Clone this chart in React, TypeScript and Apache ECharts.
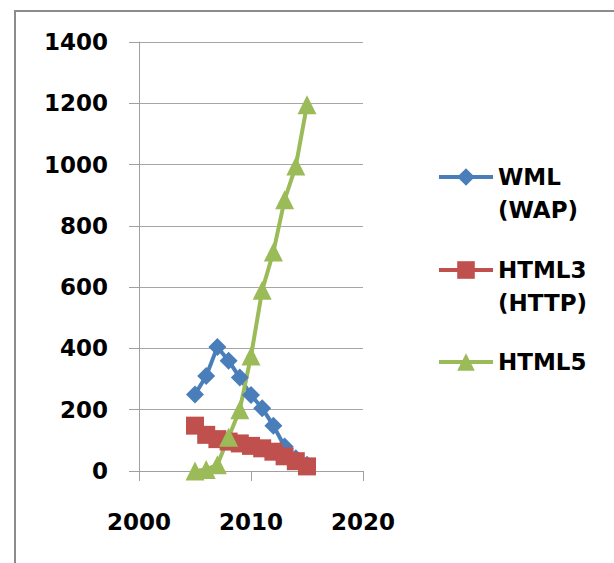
import React, { useEffect, useRef } from "react";
import * as echarts from "echarts";

const years = [2005, 2006, 2007, 2008, 2009, 2010, 2011, 2012, 2013, 2014, 2015];
const wml = [250, 310, 405, 360, 305, 248, 205, 148, 80, 42, 20];
const html3 = [148, 118, 104, 96, 90, 82, 74, 63, 48, 32, 15];
const html5 = [0, 5, 20, 110, 200, 375, 590, 715, 885, 995, 1195];
const seriesNames = ["WML (WAP)", "HTML3 (HTTP)", "HTML5"];
const legendLabels = ["\u00a0\nWML\n(WAP)", "\u00a0\nHTML3\n(HTTP)", "HTML5"];
const colors = ["#4A7EBB", "#C0504D", "#9BBB59"];

const FONT = "DejaVu Sans";
const L = 33;

export default function App() {
  const ref = useRef<HTMLDivElement>(null);
  useEffect(() => {
    const chart = echarts.init(ref.current!, null, { renderer: "svg" });
    const mk = (vals: number[]) => years.map((y, i) => [y, vals[i]]);
    const legendText = {
      fontFamily: FONT,
      fontSize: 23,
      fontWeight: "bold",
      color: "#000",
      lineHeight: L,
    };
    const legendBase = {
      orient: "vertical",
      left: 437,
      padding: 0,
      itemWidth: 54,
      itemHeight: 22,
      itemGap: 0,
      lineStyle: { width: 4 },
      textStyle: legendText,
      formatter: (n: string) => legendLabels[seriesNames.indexOf(n)],
    };
    chart.setOption({
      animation: false,
      backgroundColor: "#fff",
      graphic: [
        {
          type: "rect",
          shape: { x: 15, y: 11, width: 900, height: 900 },
          style: { fill: "none", stroke: "#8c8c8c", lineWidth: 2 },
          z: -1,
        },
      ],
      grid: { left: 139, right: 251, top: 42, bottom: 92 },
      legend: [
        { ...legendBase, top: 127.5, data: [seriesNames[0]] },
        { ...legendBase, top: 220.5, data: [seriesNames[1]] },
        { ...legendBase, top: 345.5, data: [seriesNames[2]] },
      ],
      xAxis: {
        type: "value",
        min: 2000,
        max: 2020,
        interval: 10,
        axisLine: { show: true, lineStyle: { color: "#a0a0a0", width: 1 } },
        axisTick: { show: true, length: 10, lineStyle: { color: "#a0a0a0" } },
        splitLine: { show: false },
        axisLabel: {
          margin: 37,
          fontFamily: FONT,
          fontSize: 23,
          fontWeight: "bold",
          color: "#000",
          lineHeight: 28,
          formatter: (v: number) => String(v),
        },
      },
      yAxis: {
        type: "value",
        min: 0,
        max: 1400,
        interval: 200,
        axisLine: { show: true, lineStyle: { color: "#a0a0a0", width: 1 } },
        axisTick: { show: true, length: 10, lineStyle: { color: "#a0a0a0" } },
        splitLine: { show: true, lineStyle: { color: "#a6a6a6", width: 1 } },
        axisLabel: {
          margin: 31,
          fontFamily: FONT,
          fontSize: 23,
          fontWeight: "bold",
          color: "#000",
          formatter: (v: number) => String(v),
        },
      },
      series: [
        {
          name: seriesNames[0],
          type: "line",
          data: mk(wml),
          symbol: "diamond",
          symbolSize: 18,
          showAllSymbol: true,
          color: colors[0],
          lineStyle: { width: 4, color: colors[0] },
          itemStyle: { color: colors[0] },
        },
        {
          name: seriesNames[1],
          type: "line",
          data: mk(html3),
          symbol: "rect",
          symbolSize: 18,
          showAllSymbol: true,
          color: colors[1],
          lineStyle: { width: 4, color: colors[1] },
          itemStyle: { color: colors[1] },
        },
        {
          name: seriesNames[2],
          type: "line",
          data: mk(html5),
          symbol: "triangle",
          symbolSize: 19,
          showAllSymbol: true,
          color: colors[2],
          lineStyle: { width: 4, color: colors[2] },
          itemStyle: { color: colors[2] },
        },
      ],
    });
    return () => chart.dispose();
  }, []);
  return (
    <div
      ref={ref}
      style={{ position: "absolute", left: 0, top: 0, width: 614, height: 563 }}
    />
  );
}
